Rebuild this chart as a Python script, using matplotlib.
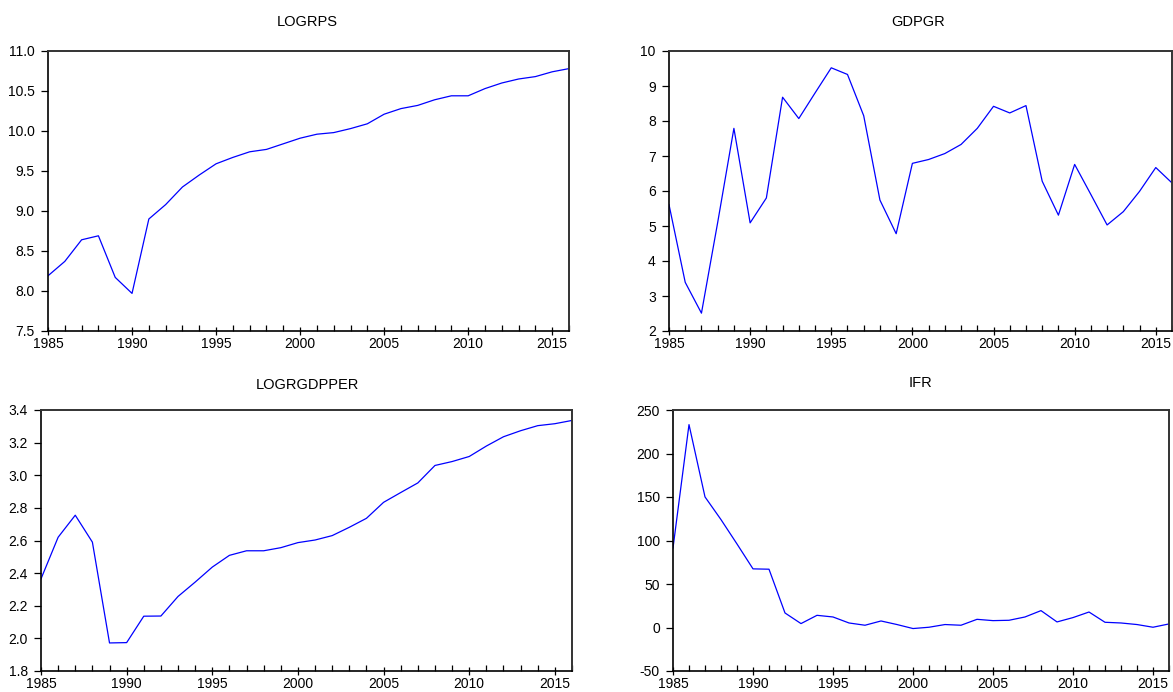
import matplotlib
matplotlib.use("Agg")
import matplotlib.pyplot as plt
from matplotlib.ticker import MultipleLocator, FormatStrFormatter

plt.rcParams['font.family'] = ['Liberation Sans', 'DejaVu Sans']

years = list(range(1985, 2017))

logrps = [8.19, 8.37, 8.64, 8.69, 8.17, 7.97, 8.90, 9.08, 9.30, 9.45,
          9.59, 9.67, 9.74, 9.77, 9.84, 9.91, 9.96, 9.98, 10.03, 10.09,
          10.21, 10.28, 10.32, 10.39, 10.44, 10.44, 10.53, 10.60, 10.65, 10.68,
          10.74, 10.78]

gdpgr = [5.61, 3.39, 2.51, 5.10, 7.79, 5.09, 5.80, 8.68, 8.07, 8.80,
         9.52, 9.33, 8.15, 5.74, 4.78, 6.79, 6.90, 7.07, 7.33, 7.79,
         8.42, 8.23, 8.44, 6.28, 5.31, 6.76, 5.90, 5.03, 5.41, 5.99,
         6.67, 6.23]

logrgdpper = [2.365, 2.62, 2.755, 2.59, 1.972, 1.974, 2.136, 2.137, 2.257, 2.345,
              2.437, 2.509, 2.537, 2.537, 2.556, 2.587, 2.603, 2.630, 2.681, 2.736,
              2.834, 2.894, 2.953, 3.060, 3.084, 3.115, 3.179, 3.236, 3.273, 3.304,
              3.316, 3.336]

ifr = [91.4, 233.2, 150.1, 124.0, 96.0, 67.4, 67.0, 16.7, 4.5, 14.0,
       12.1, 5.2, 2.6, 7.5, 3.4, -1.2, 0.3, 3.4, 2.6, 9.4,
       7.9, 8.3, 12.1, 19.4, 6.4, 11.4, 17.8, 6.0, 5.2, 3.4,
       0.3, 4.1]

W, H = 1173, 692
fig = plt.figure(figsize=(W / 100, H / 100), dpi=100)

def px_axes(left, right, top, bottom):
    return fig.add_axes([left / W, 1 - bottom / H, (right - left) / W, (bottom - top) / H])

panels = [
    dict(box=(48, 569, 51, 331), data=logrps, title="LOGRPS", ylim=(7.5, 11.0), step=0.5, fmt="%.1f", tpos=(307, 22)),
    dict(box=(669, 1172, 51, 331), data=gdpgr, title="GDPGR", ylim=(2, 10), step=1, fmt="%d", tpos=(918, 22)),
    dict(box=(41, 572, 410, 671), data=logrgdpper, title="LOGRGDPPER", ylim=(1.8, 3.4), step=0.2, fmt="%.1f", tpos=(307, 385)),
    dict(box=(673, 1169, 410, 671), data=ifr, title="IFR", ylim=(-50, 250), step=50, fmt="%d", tpos=(921, 383)),
]

for p in panels:
    ax = px_axes(*p["box"])
    ax.plot(years, p["data"], color="#0000ff", linewidth=0.9)
    ax.set_xlim(1985, 2016)
    ax.set_ylim(*p["ylim"])
    ax.yaxis.set_major_locator(MultipleLocator(p["step"]))
    ax.yaxis.set_major_formatter(FormatStrFormatter(p["fmt"]))
    ax.xaxis.set_major_locator(MultipleLocator(5))
    ax.xaxis.set_minor_locator(MultipleLocator(1))
    ax.tick_params(axis="y", direction="out", length=5, width=0.9, labelsize=10, pad=4.5, right=False)
    ax.tick_params(axis="x", which="major", direction="inout", length=6, width=0.9, labelsize=10, pad=1.5, top=False)
    ax.tick_params(axis="x", which="minor", direction="in", length=4, width=0.9, top=False)
    for side in ["left", "bottom"]:
        ax.spines[side].set_linewidth(1.2)
        ax.spines[side].set_color("black")
    for side in ["top", "right"]:
        ax.spines[side].set_linewidth(1.4)
        ax.spines[side].set_color("#333333")
    fig.text(p["tpos"][0] / W, 1 - p["tpos"][1] / H, p["title"], ha="center", va="center", fontsize=10.5)

fig.savefig("out.png", dpi=100)
